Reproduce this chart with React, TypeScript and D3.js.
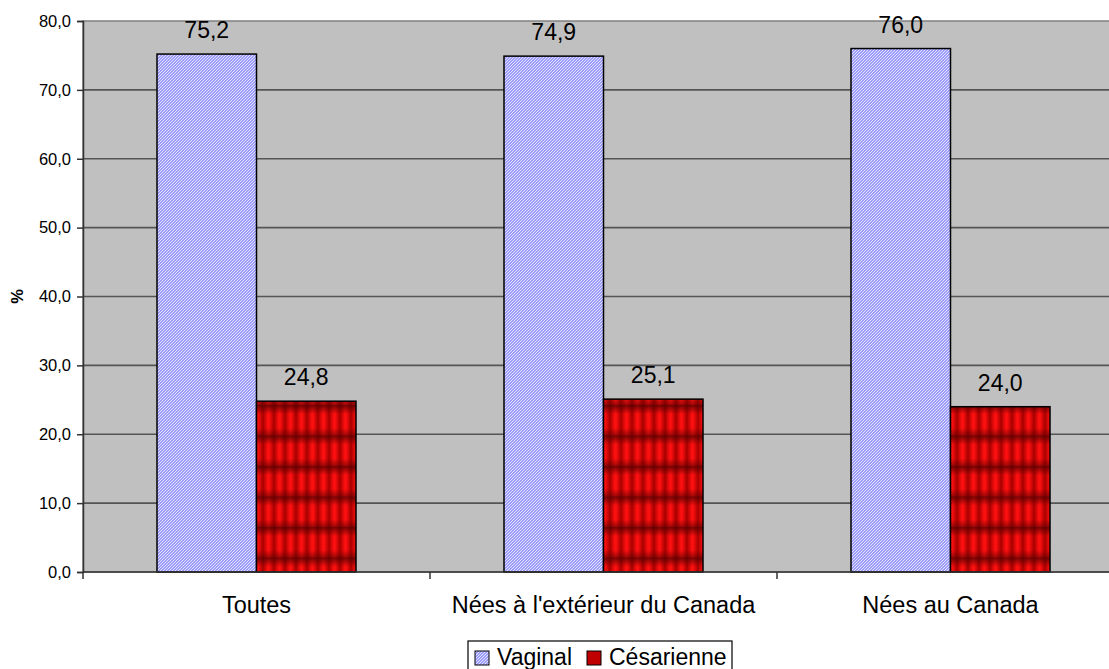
import React, { useEffect, useRef } from 'react';
import * as d3 from 'd3';

// Categories, series and values
const categories = ['Toutes', "Nées à l'extérieur du Canada", 'Nées au Canada'];
const series = ['Vaginal', 'Césarienne'];
const vaginal = [75.2, 74.9, 76.0];
const cesarienne = [24.8, 25.1, 24.0];
const yTicks = [0, 10, 20, 30, 40, 50, 60, 70, 80];

const FONT = "'Liberation Sans', Arial, Helvetica, sans-serif";

const App: React.FC = () => {
  const svgRef = useRef<SVGSVGElement>(null);

  useEffect(() => {
    if (!svgRef.current) return;
    const svg = d3.select(svgRef.current);
    svg.selectAll('*').remove();

    const width = 1109;
    const height = 669;
    const plot = { left: 83, top: 21, bottom: 572, right: 1124 };

    svg.attr('width', width).attr('height', height);

    // Patterns
    const defs = svg.append('defs');

    const blue = defs.append('pattern')
      .attr('id', 'pVaginal')
      .attr('patternUnits', 'userSpaceOnUse')
      .attr('width', 3)
      .attr('height', 3);
    blue.append('rect').attr('width', 3).attr('height', 3).attr('fill', '#9c9cff');
    blue.append('rect').attr('x', 0).attr('y', 2).attr('width', 1).attr('height', 1).attr('fill', '#e4e4ff');
    blue.append('rect').attr('x', 1).attr('y', 1).attr('width', 1).attr('height', 1).attr('fill', '#e4e4ff');
    blue.append('rect').attr('x', 2).attr('y', 0).attr('width', 1).attr('height', 1).attr('fill', '#e4e4ff');

    const hg = defs.append('linearGradient')
      .attr('id', 'gRedH')
      .attr('x1', 0).attr('x2', 1).attr('y1', 0).attr('y2', 0);
    hg.append('stop').attr('offset', '0%').attr('stop-color', '#a80000');
    hg.append('stop').attr('offset', '45%').attr('stop-color', '#ff1010');
    hg.append('stop').attr('offset', '55%').attr('stop-color', '#ff1010');
    hg.append('stop').attr('offset', '100%').attr('stop-color', '#a80000');

    const vg = defs.append('linearGradient')
      .attr('id', 'gRedV')
      .attr('x1', 0).attr('x2', 0).attr('y1', 0).attr('y2', 1);
    vg.append('stop').attr('offset', '0%').attr('stop-color', '#500000').attr('stop-opacity', 0.8);
    vg.append('stop').attr('offset', '30%').attr('stop-color', '#500000').attr('stop-opacity', 0);
    vg.append('stop').attr('offset', '75%').attr('stop-color', '#500000').attr('stop-opacity', 0);
    vg.append('stop').attr('offset', '100%').attr('stop-color', '#500000').attr('stop-opacity', 0.55);

    const red = defs.append('pattern')
      .attr('id', 'pCes')
      .attr('patternUnits', 'userSpaceOnUse')
      .attr('x', 257)
      .attr('y', 405)
      .attr('width', 11)
      .attr('height', 30.5);
    red.append('rect').attr('width', 11).attr('height', 30.5).attr('fill', 'url(#gRedH)');
    red.append('rect').attr('width', 11).attr('height', 30.5).attr('fill', 'url(#gRedV)');

    const fills = ['url(#pVaginal)', 'url(#pCes)'];

    // Scales
    const y = d3.scaleLinear().domain([0, 80]).range([plot.bottom, plot.top]);
    const x0 = d3.scaleBand<string>()
      .domain(categories)
      .range([plot.left, plot.right])
      .paddingInner(0)
      .paddingOuter(0);
    const groupW = 199;
    const x1 = d3.scaleBand<string>()
      .domain(series)
      .range([(x0.bandwidth() - groupW) / 2, (x0.bandwidth() + groupW) / 2])
      .padding(0);

    // Plot background
    svg.append('rect')
      .attr('x', plot.left)
      .attr('y', plot.top)
      .attr('width', plot.right - plot.left)
      .attr('height', plot.bottom - plot.top)
      .attr('fill', '#c0c0c0')
      .attr('stroke', '#808080')
      .attr('stroke-width', 1.5);

    // Gridlines
    svg.append('g')
      .selectAll('line')
      .data(yTicks.filter(t => t > 0 && t < 80))
      .enter()
      .append('line')
      .attr('x1', plot.left)
      .attr('x2', plot.right)
      .attr('y1', d => y(d))
      .attr('y2', d => y(d))
      .attr('stroke', '#555555')
      .attr('stroke-width', 1.6);

    // Y axis
    const yAxis = svg.append('g')
      .attr('transform', `translate(${plot.left},0)`)
      .call(
        d3.axisLeft(y)
          .tickValues(yTicks)
          .tickSize(6)
          .tickPadding(6)
          .tickFormat(d => d3.format('.1f')(d as number).replace('.', ','))
      );
    yAxis.select('.domain').attr('stroke', '#333333').attr('stroke-width', 1.5);
    yAxis.selectAll('.tick line').attr('stroke', '#333333').attr('stroke-width', 1.5);
    yAxis.selectAll('.tick text')
      .attr('font-family', FONT)
      .attr('font-size', 16.5)
      .attr('fill', '#000');

    // Y axis title
    svg.append('text')
      .attr('transform', `translate(23,${(plot.top + plot.bottom) / 2}) rotate(-90)`)
      .attr('text-anchor', 'middle')
      .attr('font-family', FONT)
      .attr('font-weight', 'bold')
      .attr('font-size', 16.5)
      .text('%');

    // Bars
    const groups = svg.append('g')
      .selectAll('g')
      .data(categories)
      .enter()
      .append('g')
      .attr('transform', d => `translate(${x0(d)},0)`);

    const rows = (c: string, i: number) => [
      { key: series[0], v: vaginal[i], s: 0 },
      { key: series[1], v: cesarienne[i], s: 1 },
    ];

    groups.selectAll('rect')
      .data((c, i) => rows(c, i))
      .enter()
      .append('rect')
      .attr('x', d => x1(d.key)!)
      .attr('y', d => y(d.v))
      .attr('width', x1.bandwidth())
      .attr('height', d => y(0) - y(d.v))
      .attr('fill', d => fills[d.s])
      .attr('stroke', '#000')
      .attr('stroke-width', 1.5);

    groups.selectAll('text.val')
      .data((c, i) => rows(c, i))
      .enter()
      .append('text')
      .attr('class', 'val')
      .attr('x', d => x1(d.key)! + x1.bandwidth() / 2)
      .attr('y', d => y(d.v) - 16)
      .attr('text-anchor', 'middle')
      .attr('font-family', FONT)
      .attr('font-size', 23)
      .text(d => d3.format('.1f')(d.v).replace('.', ','));

    // X axis
    const xAxisG = svg.append('g');
    xAxisG.append('line')
      .attr('x1', plot.left)
      .attr('x2', plot.right)
      .attr('y1', plot.bottom)
      .attr('y2', plot.bottom)
      .attr('stroke', '#333333')
      .attr('stroke-width', 1.5);
    const tickXs = categories.map(c => x0(c)!).concat([plot.right]);
    xAxisG.selectAll('line.tick')
      .data(tickXs)
      .enter()
      .append('line')
      .attr('class', 'tick')
      .attr('x1', d => d)
      .attr('x2', d => d)
      .attr('y1', plot.bottom)
      .attr('y2', plot.bottom + 7)
      .attr('stroke', '#333333')
      .attr('stroke-width', 1.5);
    xAxisG.selectAll('text')
      .data(categories)
      .enter()
      .append('text')
      .attr('x', d => x0(d)! + x0.bandwidth() / 2)
      .attr('y', 613)
      .attr('text-anchor', 'middle')
      .attr('font-family', FONT)
      .attr('font-size', 23.5)
      .text(d => d);

    // Legend
    const legend = svg.append('g');
    legend.append('rect')
      .attr('x', 468)
      .attr('y', 641)
      .attr('width', 264)
      .attr('height', 40)
      .attr('fill', '#fff')
      .attr('stroke', '#000')
      .attr('stroke-width', 1.2);
    const legendX = [475, 587];
    series.forEach((s, i) => {
      legend.append('rect')
        .attr('x', legendX[i])
        .attr('y', 651)
        .attr('width', 14)
        .attr('height', 14)
        .attr('fill', i === 0 ? fills[0] : '#c00000')
        .attr('stroke', '#000')
        .attr('stroke-width', 1);
      legend.append('text')
        .attr('x', legendX[i] + 22)
        .attr('y', 665)
        .attr('font-family', FONT)
        .attr('font-size', 23)
        .text(s);
    });
  }, []);

  return (
    <div style={{ position: 'absolute', left: 0, top: 0, width: 1109, height: 669, overflow: 'hidden', background: '#fff' }}>
      <svg ref={svgRef} style={{ display: 'block' }}></svg>
    </div>
  );
};

export default App;
